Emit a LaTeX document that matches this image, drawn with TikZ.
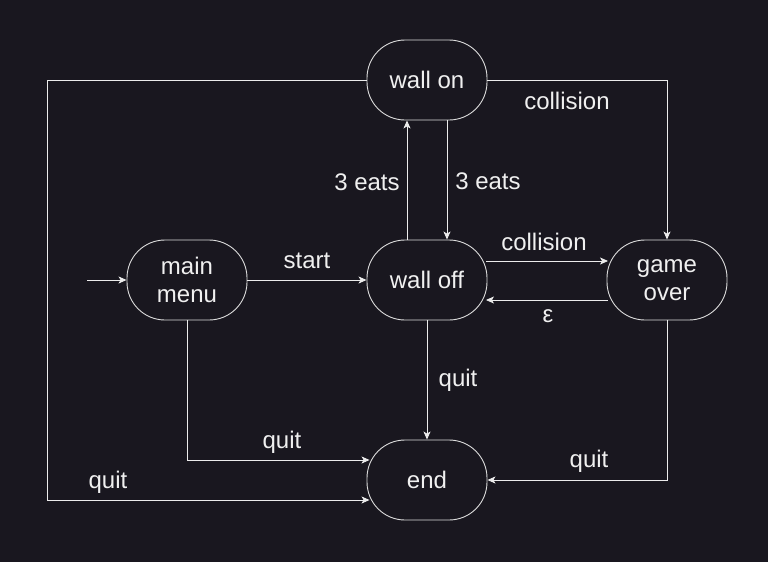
\documentclass[tikz,border=0pt]{standalone}
\usepackage{fontspec}
\setmainfont{Liberation Sans}
\usetikzlibrary{arrows.meta}
\definecolor{bg}{RGB}{25,23,31}
\definecolor{ln}{RGB}{236,236,236}
\definecolor{bd}{RGB}{220,220,220}
\definecolor{tx}{RGB}{240,240,240}
\begin{document}
\begin{tikzpicture}[x=1pt,y=-1pt,
  state/.style={draw=bd, fill=bg, line width=0.9pt, rounded corners=38pt,
    minimum width=120pt, minimum height=80pt, inner sep=0pt, align=center,
    text=tx, font=\fontsize{24}{28}\selectfont},
  lbl/.style={text=tx, font=\fontsize{24}{28}\selectfont, inner sep=0pt},
  arr/.style={draw=ln, line width=0.9pt, -{Stealth[length=8pt,width=7pt,inset=2pt]}}]
\fill[bg] (0,0) rectangle (768,562);
\useasboundingbox (0,0) rectangle (768,562);

\node[state] (won) at (427,80) {wall on};
\node[state] (mm) at (187,280) {main\\menu};
\node[state] (woff) at (427,280) {wall off};
\node[state] (go) at (667,280) {game\\over};
\node[state] (end) at (427,480) {end};

\coordinate (init) at (87,280);
\coordinate (lc) at (47,80);

\draw[arr] (init) -- (mm);
\draw[arr] (mm) -- (woff);
\draw[arr] ([xshift=-20pt]woff.north) -- ([xshift=-20pt]won.south);
\draw[arr] ([xshift=20pt]won.south) -- ([xshift=20pt]woff.north);
\draw[arr] ([shift={(-1pt,19pt)}]woff.east) -- ([shift={(1.5pt,19pt)}]go.west);
\draw[arr] ([shift={(1pt,-20pt)}]go.west) -- ([shift={(-1.5pt,-20pt)}]woff.east);
\draw[arr] (won.east) -| (go.north);
\draw[arr] (woff.south) -- (end.north);
\draw[arr] (mm.south) |- ([shift={(3pt,20pt)}]end.west);
\draw[arr] (won.west) -- (lc) |- ([shift={(3pt,-20pt)}]end.west);
\draw[arr] (go.south) |- (end.east);

\node[lbl] (lstart) at (307,261) {start};
\node[lbl] (leats1) at (367,182) {3 eats};
\node[lbl] (leats2) at (488,181) {3 eats};
\node[lbl] (lcol1) at (544,242) {collision};
\node[lbl] (leps) at (548,316) {ε};
\node[lbl] (lcol2) at (567,101) {collision};
\node[lbl] (lquit1) at (458,380) {quit};
\node[lbl] (lquit2) at (282,442) {quit};
\node[lbl] (lquit3) at (108,482) {quit};
\node[lbl] (lquit4) at (589,461) {quit};
\end{tikzpicture}
\end{document}
